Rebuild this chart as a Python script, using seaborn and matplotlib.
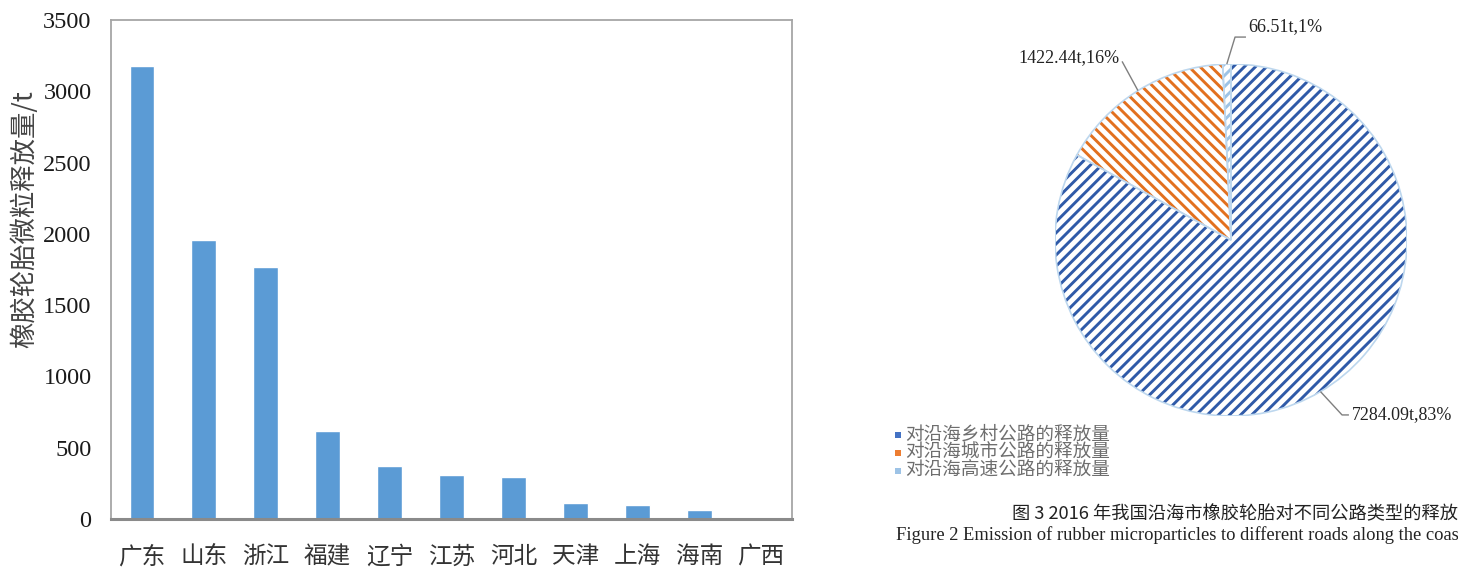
import numpy as np
import pandas as pd
import matplotlib
matplotlib.use("Agg")
import matplotlib.pyplot as plt
from matplotlib.patches import Wedge, Rectangle
import seaborn as sns

# Tyre microparticle emissions by coastal province (t)
provinces = ["广东", "山东", "浙江", "福建", "辽宁", "江苏", "河北", "天津", "上海", "海南", "广西"]
emissions = [3175, 1957, 1767, 617, 370, 309, 297, 110, 98, 62, 5]
y_ticks = [0, 500, 1000, 1500, 2000, 2500, 3000, 3500]

# Emissions by road type
road_types = ["对沿海乡村公路的释放量", "对沿海城市公路的释放量", "对沿海高速公路的释放量"]
road_emissions = [7284.09, 1422.44, 66.51]
road_labels = ["7284.09t,83%", "1422.44t,16%", "66.51t,1%"]

sns.set_theme(style="white")
plt.rcParams["font.family"] = ["Noto Sans CJK SC", "DejaVu Sans"]
plt.rcParams["hatch.linewidth"] = 2.1

SERIF = "Liberation Serif"
CJK = ["Noto Sans CJK SC", "DejaVu Sans"]
W, H = 1458, 574

fig = plt.figure(figsize=(W / 100, H / 100), dpi=100)
fig.patch.set_facecolor("white")

# ---- bar chart ----
ax = fig.add_axes([111 / W, 1 - 519 / H, 681 / W, 499 / H])
df = pd.DataFrame({"省份": provinces, "释放量": emissions})
sns.barplot(data=df, x="省份", y="释放量", color="#5B9BD5", saturation=1,
            width=0.4, ax=ax)
ax.set_xlim(-0.5, len(provinces) - 0.5)
ax.set_ylim(0, 3500)
ax.set_yticks(y_ticks)
ax.set_yticklabels([str(v) for v in y_ticks], fontfamily=SERIF, fontsize=17.5,
                   color="#1a1a1a")
ax.set_xticks(range(len(provinces)))
ax.set_xticklabels(provinces, fontfamily=CJK, fontsize=17, color="#333333")
ax.tick_params(axis="y", length=0, pad=14)
ax.tick_params(axis="x", length=0, pad=19)
ax.set_xlabel("")
ax.set_ylabel("橡胶轮胎微粒释放量/t", fontsize=19, color="#444444",
              fontfamily=CJK)
ax.yaxis.set_label_coords(-0.107, 0.60)
for side in ["top", "right", "left"]:
    ax.spines[side].set_color("#a6a6a6")
    ax.spines[side].set_linewidth(1.3)
    ax.spines[side].set_visible(True)
ax.spines["bottom"].set_color("#8a8a8a")
ax.spines["bottom"].set_linewidth(2.2)
ax.spines["bottom"].set_visible(True)
ax.grid(False)

# ---- pie chart ----
cx, cy, r = 1231, 240, 176
pax = fig.add_axes([(cx - r) / W, 1 - (cy + r) / H, 2 * r / W, 2 * r / H])
stripe_colors = ["#2f5aa8", "#e2701f", "#9dc3e6"]
hatches = ["///", "\\\\\\", "///"]
wedges, _ = pax.pie(road_emissions, startangle=90, counterclock=False,
                    colors=["white"] * 3, radius=1,
                    wedgeprops=dict(linewidth=0))
for w, c, h in zip(wedges, stripe_colors, hatches):
    w.set_hatch(h)
    w.set_edgecolor(c)
    w.set_linewidth(0)
# light outline around each wedge
for w in wedges:
    pax.add_patch(Wedge(w.center, w.r, w.theta1, w.theta2, facecolor="none",
                        edgecolor="#bdd7ee", linewidth=1.2))
pax.set_xlim(-1, 1)
pax.set_ylim(-1, 1)
pax.set_aspect("equal")
pax.axis("off")

# leader lines (pie edge -> elbow -> end) and value labels
leaders = [
    [(0.631, -0.994), (0.67, -0.994)],
    [(-0.619, 1.015)],
    [(0.023, 1.153), (0.085, 1.153)],
]
label_pos = [((0.688, -0.994), "left"), ((-0.632, 1.034), "right"),
             ((0.097, 1.21), "left")]
for w, lab, pts, (tpos, ha) in zip(wedges, road_labels, leaders, label_pos):
    mid = np.deg2rad((w.theta1 + w.theta2) / 2)
    xs = [np.cos(mid)] + [p[0] for p in pts]
    ys = [np.sin(mid)] + [p[1] for p in pts]
    pax.plot(xs, ys, color="#7f7f7f", linewidth=1.0, clip_on=False,
             solid_capstyle="butt")
    pax.text(tpos[0], tpos[1], lab, ha=ha, va="center", fontfamily=SERIF,
             fontsize=13, color="#222222", clip_on=False)

# legend entries
legend_colors = ["#4472c4", "#ed7d31", "#9dc3e6"]
legend_rows = [435, 453, 471]
for name, c, yrow in zip(road_types, legend_colors, legend_rows):
    fig.patches.append(Rectangle((895 / W, 1 - (yrow + 3) / H), 6 / W, 6 / H,
                                 transform=fig.transFigure, facecolor=c,
                                 edgecolor="none"))
    fig.text(905 / W, 1 - yrow / H, name, ha="left", va="center",
             fontfamily=CJK, fontsize=13.4, color="#6e6e6e")

# captions
fig.text(1012 / W, 1 - 514 / H, "图 3 2016 年我国沿海市橡胶轮胎对不同公路类型的释放",
         ha="left", va="center", fontfamily=CJK, fontsize=13.15, color="#222222")
fig.text(896 / W, 1 - 535 / H,
         "Figure 2 Emission of rubber microparticles to different roads along the coas",
         ha="left", va="center", fontfamily=SERIF, fontsize=13.35, color="#222222")

fig.savefig("out.png", dpi=100)
